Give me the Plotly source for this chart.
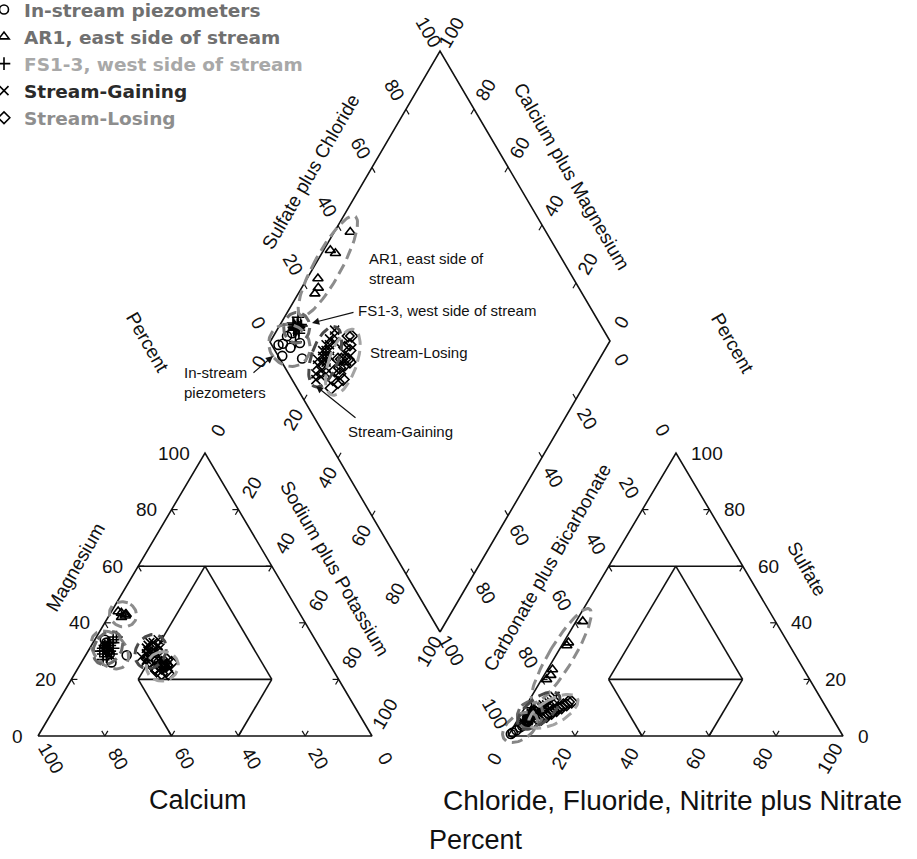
import numpy as np
import plotly.graph_objects as go

# ---------------------------------------------------------------
# Sample chemistry, percent of total cations / anions (meq/L).
# Calcium and carbonate-plus-bicarbonate are the remainders.
# ---------------------------------------------------------------
piezo_mg = [32, 30, 28.5, 26, 34, 29, 31, 33]
piezo_nak = [4.1, 6, 12.3, 9, 3, 7, 5, 4]
piezo_so4 = [2, 0.7, 4, 5, 1.2, 3, 5, 3.5]
piezo_cl = [1.5, 0.5, 2.6, 3.6, 0.8, 2, 3, 2.5]

ar1_mg = [43, 44, 42, 43.5, 42.5, 43]
ar1_nak = [4.7, 2, 4, 3.2, 4.9, 4.9]
ar1_so4 = [40.5, 32, 33, 23.5, 21.5, 20]
ar1_cl = [2, 1.5, 1.5, 1.5, 2, 1.5]

fs_mg = [31, 33, 30, 28, 34, 31, 29, 32, 35, 30, 27, 33, 31, 29, 32, 30, 31, 33, 30, 32]
fs_nak = [5, 6, 4.5, 6.5, 5.5, 7, 5, 4, 6, 3.5, 6, 5, 4, 7.5, 5.5, 6.5, 5, 4.5, 6, 5]
fs_so4 = [7, 8, 6, 9, 7.5, 6.5, 8.5, 7, 10, 6, 8, 7, 9, 5.5, 8, 7, 6.5, 7.5, 8, 6]
fs_cl = [3, 2.5, 3.5, 3, 2, 3.5, 2.5, 3, 2, 4, 3, 2.5, 3.5, 2, 3, 3.5, 3, 2.5, 3, 3]

gain_mg = [30, 28, 31, 29, 27, 32, 30, 28, 33, 29, 31, 27, 30, 32, 28, 34, 29, 31, 26, 30, 33, 28]
gain_nak = [20, 19, 21, 18, 20, 17, 19, 21, 18, 20, 17, 19, 18, 20, 17, 19, 18, 17, 19, 18, 17, 22]
gain_so4 = [5, 5, 6, 6, 7, 7, 8, 8, 8, 9, 9, 9, 10, 10, 10, 11, 11, 12, 12, 13, 14, 7]
gain_cl = [2, 3, 3, 4, 3, 4, 4, 4, 5, 4, 5, 5, 5, 5, 6, 5, 6, 6, 7, 7, 7, 4]

lose_mg = [25, 24, 26, 23, 25, 27, 24, 22, 26, 25, 23, 24, 26, 25, 27, 24, 22, 25]
lose_nak = [26, 25, 27, 24, 26, 25, 23, 26, 24, 25, 27, 23, 25, 24, 22, 23, 28, 26]
lose_so4 = [5, 6, 6, 7, 7, 8, 8, 9, 9, 9, 10, 10, 11, 11, 12, 12, 7, 10]
lose_cl = [5, 6, 7, 7, 8, 8, 9, 9, 9, 10, 10, 11, 11, 12, 12, 13, 8, 10]

group_names = ["In-stream piezometers", "AR1, east side of stream",
               "FS1-3, west side of stream", "Stream-Gaining", "Stream-Losing"]
legend_colors = ["#707070", "#707070", "#a8a8a8", "#2a2a2a", "#8e8e8e"]
symbols = ["circle-open", "triangle-up-open", "cross-thin", "x-thin", "diamond-open"]
ellipse_colors = ["#858585", "#8c8c8c", "#6a6a6a", "#4a4a4a", "#a3a3a3"]

tick_values = [0, 20, 40, 60, 80, 100]

# ---------------------------------------------------------------
# Layout of the three panels (axis units = page pixels)
# ---------------------------------------------------------------
CA, NAK, MG = np.array([38., 736.]), np.array([372., 736.]), np.array([205., 453.])
HCO3, CL, SO4 = np.array([508., 736.]), np.array([843., 736.]), np.array([676., 453.])
D_BOT, D_LEFT, D_RIGHT = np.array([440., 632.]), np.array([270., 342.]), np.array([610., 341.])
D_TOP = D_LEFT + D_RIGHT - D_BOT


def unit(v):
    return v / np.hypot(*v)


def tern(pa, pb, pc, a, b, c):
    a, b, c = (np.asarray(v, float) / 100 for v in (a, b, c))
    return pa[0] * a + pb[0] * b + pc[0] * c, pa[1] * a + pb[1] * b + pc[1] * c


def diamond(so4cl, camg):
    a, c = np.asarray(so4cl, float) / 100, np.asarray(camg, float) / 100
    p = D_BOT[:, None] + np.outer(D_RIGHT - D_BOT, a) + np.outer(D_LEFT - D_BOT, c)
    return p[0], p[1]


def ellipse(xs, ys, k=2.0, pad=12.0, n=90):
    pts = np.column_stack([xs, ys])
    m = pts.mean(axis=0)
    vals, vecs = np.linalg.eigh(np.cov(pts.T))
    r = np.sqrt(k * k * np.clip(vals, 0, None) + pad * pad)
    t = np.linspace(0, 2 * np.pi, n)
    e = vecs @ np.vstack([r[0] * np.cos(t), r[1] * np.sin(t)]) + m[:, None]
    return e[0], e[1]


groups = [
    (piezo_mg, piezo_nak, piezo_so4, piezo_cl),
    (ar1_mg, ar1_nak, ar1_so4, ar1_cl),
    (fs_mg, fs_nak, fs_so4, fs_cl),
    (gain_mg, gain_nak, gain_so4, gain_cl),
    (lose_mg, lose_nak, lose_so4, lose_cl),
]

fig = go.Figure()
LINE = dict(color="#111111", width=1.6)


def seg(p, q, width=1.6):
    fig.add_trace(go.Scatter(x=[p[0], q[0]], y=[p[1], q[1]], mode="lines",
                             line=dict(color="#111111", width=width),
                             hoverinfo="skip", showlegend=False))


# ---- outlines ----
for verts in ([CA, NAK, MG], [HCO3, CL, SO4], [D_BOT, D_RIGHT, D_TOP, D_LEFT]):
    xs = [v[0] for v in verts] + [verts[0][0]]
    ys = [v[1] for v in verts] + [verts[0][1]]
    fig.add_trace(go.Scatter(x=xs, y=ys, mode="lines", line=LINE,
                             hoverinfo="skip", showlegend=False))

# ---- classification lines inside the triangles ----
inner = [((40, 60, 0), (0, 60, 40)), ((60, 20, 20), (20, 20, 60)),
         ((60, 0, 40), (60, 20, 20)), ((40, 0, 60), (20, 20, 60)),
         ((60, 20, 20), (20, 60, 20)), ((20, 60, 20), (20, 20, 60))]
for tri in ((CA, MG, NAK), (HCO3, SO4, CL)):
    for p, q in inner:
        seg(np.array(tern(*tri, *p)), np.array(tern(*tri, *q)))

# ---- tick marks ----
TL = 6
for P0, P1, P2 in ((CA, NAK, MG), (HCO3, CL, SO4)):
    for pi, pj, pk in ((P0, P1, P2), (P1, P2, P0), (P2, P0, P1)):
        for v in (20, 40, 60, 80):
            e = pi + (pj - pi) * v / 100
            seg(e, e + TL * unit(pk - pi), 1.2)
            seg(e, e + TL * unit(pk - pj), 1.2)
for a0, a1, inward in ((D_LEFT, D_TOP, D_BOT - D_LEFT), (D_RIGHT, D_TOP, D_BOT - D_RIGHT),
                       (D_LEFT, D_BOT, D_RIGHT - D_BOT), (D_RIGHT, D_BOT, D_LEFT - D_BOT)):
    for v in (20, 40, 60, 80):
        e = a0 + (a1 - a0) * v / 100
        seg(e, e + TL * unit(inward), 1.2)

# ---- samples ----
ell = []
for (mg, nak, so4, cl), name, lc, sym in zip(groups, group_names, legend_colors, symbols):
    mg, nak, so4, cl = (np.asarray(v, float) for v in (mg, nak, so4, cl))
    ca = 100 - mg - nak
    hco3 = 100 - so4 - cl
    cx, cy = tern(CA, MG, NAK, ca, mg, nak)
    ax_, ay_ = tern(HCO3, SO4, CL, hco3, so4, cl)
    dx, dy = diamond(so4 + cl, ca + mg)
    fig.add_trace(go.Scatter(
        x=np.concatenate([cx, ax_, dx]), y=np.concatenate([cy, ay_, dy]),
        mode="markers", name=f"<b><span style='color:{lc}'>{name}</span></b>",
        marker=dict(symbol=sym, size=9, color="black",
                    line=dict(color="black", width=1.6)),
        hoverinfo="skip"))
    ell.append([(cx, cy), (ax_, ay_), (dx, dy)])

for panels, col in zip(ell, ellipse_colors):
    for px, py in panels:
        ex, ey = ellipse(px, py)
        fig.add_trace(go.Scatter(x=ex, y=ey, mode="lines",
                                 line=dict(color=col, width=3, dash="11px,6px"),
                                 hoverinfo="skip", showlegend=False))

# ---- tick labels ----
ann = []
FONT = dict(family="Liberation Sans, Arial, sans-serif", size=19, color="#111111")


def lab(x, y, text, angle=0, xanchor="center", size=None):
    f = dict(FONT)
    if size:
        f["size"] = size
    ann.append(dict(x=x, y=y, xref="x", yref="y", text=text, showarrow=False,
                    textangle=angle, xanchor=xanchor, yanchor="middle", font=f))


for v in tick_values:
    t = str(v)
    p = CA + (MG - CA) * v / 100
    lab(p[0] - 13, p[1], t, 0, "right")
    p = NAK + (CA - NAK) * v / 100 + 26 * unit(NAK - MG)
    lab(p[0], p[1], t, 60)
    p = MG + (NAK - MG) * v / 100 + 26 * unit(MG - CA)
    lab(p[0], p[1], t, -60)

    p = CL + (SO4 - CL) * v / 100
    lab(p[0] + 13, p[1], t, 0, "left")
    p = HCO3 + (CL - HCO3) * v / 100 + 26 * unit(HCO3 - SO4)
    lab(p[0], p[1], t, -60)
    p = SO4 + (HCO3 - SO4) * v / 100 + 26 * unit(SO4 - CL)
    lab(p[0], p[1], t, 60)

    p = D_LEFT + (D_TOP - D_LEFT) * v / 100 + 22 * unit(D_LEFT - D_BOT)
    lab(p[0], p[1], t, 60)
    p = D_RIGHT + (D_TOP - D_RIGHT) * v / 100 + 22 * unit(D_RIGHT - D_BOT)
    lab(p[0], p[1], t, -60)
    p = D_LEFT + (D_BOT - D_LEFT) * v / 100 + 22 * unit(D_BOT - D_RIGHT)
    lab(p[0], p[1], t, -60)
    p = D_RIGHT + (D_BOT - D_RIGHT) * v / 100 + 22 * unit(D_BOT - D_LEFT)
    lab(p[0], p[1], t, 60)

# ---- axis titles ----
lab(75, 567, "Magnesium", -60)
lab(335, 568, "Sodium plus Potassium", 60)
lab(547, 567, "Carbonate plus Bicarbonate", -60)
lab(807, 568, "Sulfate", 60)
lab(310, 172, "Sulfate plus Chloride", -60)
lab(572, 176, "Calcium plus Magnesium", 60)
lab(148, 342, "Percent", 60)
lab(733, 343, "Percent", 60)
lab(198, 800, "Calcium", 0, size=27)
lab(672, 800, "Chloride, Fluoride, Nitrite plus Nitrate", 0, size=28)
lab(476, 840, "Percent", 0, size=27)

# ---- callouts in the diamond ----
SMALL = 15
lab(367, 268, "AR1, east side of<br>stream", 0, "left", SMALL)
lab(356, 310, "FS1-3, west side of stream", 0, "left", SMALL)
lab(368, 352, "Stream-Losing", 0, "left", SMALL)
lab(346, 431, "Stream-Gaining", 0, "left", SMALL)
lab(182, 382, "In-stream<br>piezometers", 0, "left", SMALL)
for ann_i in ann[-5:]:
    ann_i["align"] = "left"

for tip, tail in (((312, 323), (355, 312)), ((316, 386), (357, 419)), ((273, 356), (252, 374))):
    ann.append(dict(x=tip[0], y=tip[1], ax=tail[0], ay=tail[1], xref="x", yref="y",
                    axref="x", ayref="y", text="", showarrow=True, arrowhead=2,
                    arrowsize=1.2, arrowwidth=1.2, arrowcolor="#111111"))

fig.update_layout(
    width=917, height=859, autosize=False,
    margin=dict(l=0, r=0, t=0, b=0, pad=0, autoexpand=False),
    paper_bgcolor="white", plot_bgcolor="white",
    xaxis=dict(range=[0, 917], visible=False, fixedrange=True),
    yaxis=dict(range=[859, 0], visible=False, fixedrange=True),
    annotations=ann,
    showlegend=True,
    legend=dict(x=-16 / 917, y=1 + 9 / 859, xanchor="left", yanchor="top",
                bgcolor="rgba(0,0,0,0)", borderwidth=0,
                font=dict(family="DejaVu Sans, sans-serif", size=18.5, color="#707070"),
                itemclick=False, itemdoubleclick=False, tracegroupgap=0),
)

fig.write_html("out.html")
